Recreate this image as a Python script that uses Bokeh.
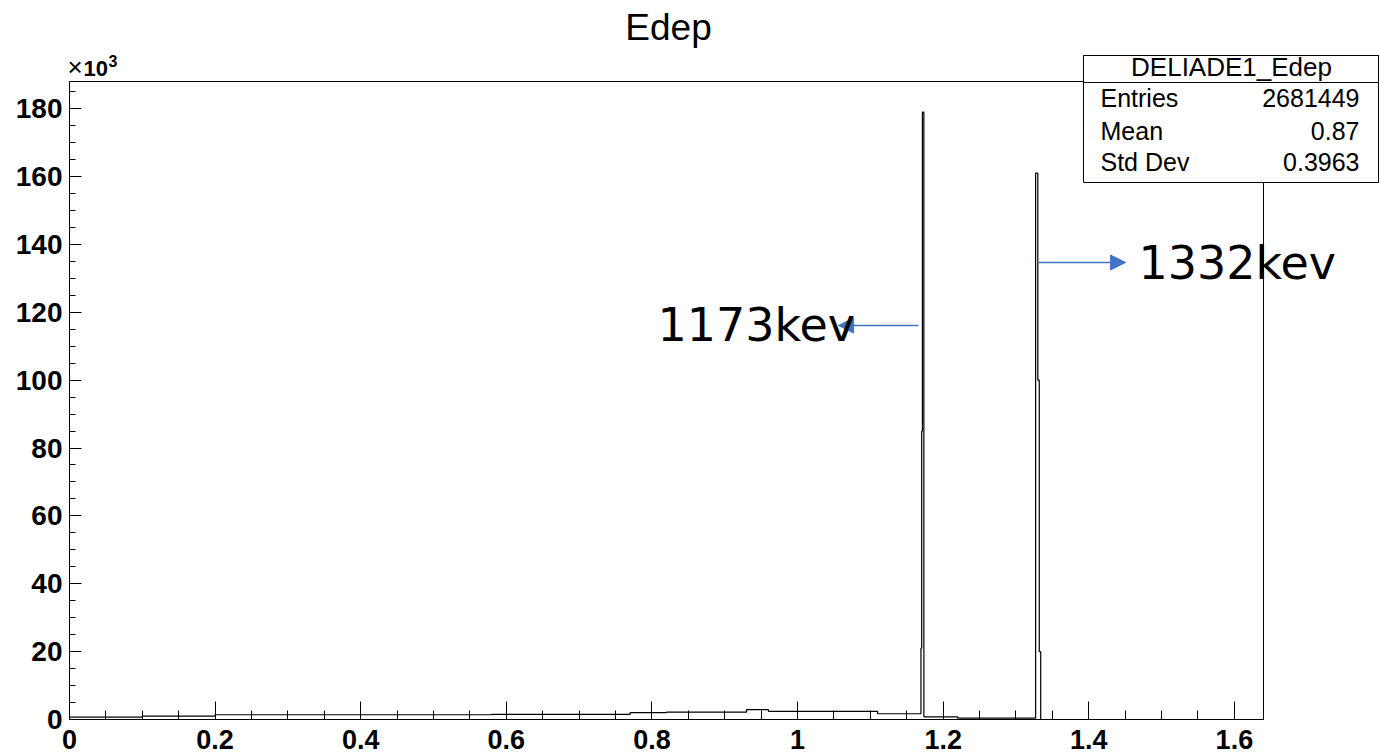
from bokeh.plotting import figure
from bokeh.models import FixedTicker, Label, Arrow, NormalHead, BoxAnnotation, Range1d
from bokeh.embed import file_html
from bokeh.resources import INLINE

# Histogram DELIADE1_Edep: variable-width bin edges (MeV) and counts per bin
bin_edges = [0.0, 0.1, 0.2, 0.58, 0.77, 0.82, 0.93, 0.96, 1.11, 1.1695,
             1.1705, 1.1715, 1.1735, 1.22, 1.327, 1.330, 1.332, 1.334, 1.64]
bin_counts = [700, 1000, 1400, 1500, 2000, 2200, 2900, 2400, 1700, 21000,
              85000, 179000, 800, 400, 161000, 100000, 20000, 0]

# Statistics box contents
stats_title = "DELIADE1_Edep"
stats_names = ["Entries", "Mean", "Std Dev"]
stats_values = ["2681449", "0.87", "0.3963"]

# Peak annotation texts
peak_labels = ["1173kev", "1332kev"]

# Axis ticks
x_major = [0.0, 0.2, 0.4, 0.6, 0.8, 1.0, 1.2, 1.4, 1.6]
x_minor = [i * 0.05 for i in range(33)]
y_major = [i * 20000 for i in range(10)]
y_minor = [i * 5000 for i in range(38)]
x_labels = {0.0: "0", 0.2: "0.2", 0.4: "0.4", 0.6: "0.6", 0.8: "0.8",
            1.0: "1", 1.2: "1.2", 1.4: "1.4", 1.6: "1.6"}
y_labels = {v: str(v // 1000) for v in y_major}

X_MAX = 1.64
Y_MAX = 188000

W, H = 1379, 754
# pad (in pixels) around the histogram frame
LEFT, RIGHT, TOP, BOTTOM = 69, 116, 81, 35
FW = W - LEFT - RIGHT
FH = H - TOP - BOTTOM


def xd(px):
    """canvas pixel column -> data x"""
    return (px - LEFT) * X_MAX / FW


def yd(py):
    """canvas pixel row -> data y"""
    return (H - BOTTOM - py) * Y_MAX / FH


# Label baselines: Bokeh's alphabetic baseline sits ~0.39 em lower than asked
def lbl(px, py, text, size, align="left", font="Liberation Sans", style="normal"):
    return Label(x=xd(px), y=yd(py - 0.39 * size), text=text, text_align=align,
                 text_baseline="alphabetic", text_font=font, text_font_style=style,
                 text_font_size=f"{size}px", text_color="black")


# the plotting frame spans the whole canvas; the axes are pinned at the data origin
p = figure(width=W, height=H,
           x_range=Range1d(xd(0), xd(W)), y_range=Range1d(yd(H), yd(0)),
           output_backend="svg", toolbar_location=None,
           min_border_left=0, min_border_right=0,
           min_border_top=0, min_border_bottom=0)
p.title.visible = False
p.background_fill_color = "white"
p.border_fill_color = "white"
p.outline_line_color = None
p.xgrid.visible = False
p.ygrid.visible = False

# histogram frame
p.add_layout(BoxAnnotation(left=0, right=X_MAX, bottom=0, top=Y_MAX,
                           fill_alpha=0, line_color="black", line_width=1,
                           line_alpha=1.0))

# histogram outline
p.step(x=bin_edges, y=bin_counts + [bin_counts[-1]], mode="after",
       line_color="black", line_width=1.2)

FONT = "Liberation Sans"

xa = p.xaxis[0]
xa.fixed_location = 0
xa.bounds = (0, X_MAX)
xa.ticker = FixedTicker(ticks=x_major, minor_ticks=x_minor)
xa.major_label_overrides = x_labels
xa.major_tick_in = 18
xa.major_tick_out = 0
xa.minor_tick_in = 9
xa.minor_tick_out = 0
xa.major_label_standoff = 10
xa.major_label_text_font = FONT
xa.major_label_text_font_style = "bold"
xa.major_label_text_font_size = "27px"
xa.major_label_text_color = "black"
xa.axis_line_color = "black"
xa.major_tick_line_color = "black"
xa.minor_tick_line_color = "black"

ya = p.yaxis[0]
ya.fixed_location = 0
ya.bounds = (0, Y_MAX)
ya.ticker = FixedTicker(ticks=y_major, minor_ticks=y_minor)
ya.major_label_overrides = y_labels
ya.major_tick_in = 12
ya.major_tick_out = 0
ya.minor_tick_in = 6
ya.minor_tick_out = 0
ya.major_label_standoff = 7
ya.major_label_text_font = FONT
ya.major_label_text_font_style = "bold"
ya.major_label_text_font_size = "28px"
ya.major_label_text_color = "black"
ya.axis_line_color = "black"
ya.major_tick_line_color = "black"
ya.minor_tick_line_color = "black"

# title
p.add_layout(lbl(668, 41, "Edep", 37, align="center"))

# axis multiplier
p.add_layout(lbl(67, 77, "\u00d7", 26))
p.add_layout(lbl(83, 77, "10", 22, style="bold"))
p.add_layout(lbl(108, 67, "3", 16, style="bold"))

# statistics box
p.add_layout(BoxAnnotation(left=xd(1083), right=xd(1378), top=yd(55), bottom=yd(182),
                           fill_color="white", fill_alpha=1.0,
                           line_color="black", line_width=1, line_alpha=1.0))
p.add_layout(BoxAnnotation(left=xd(1083), right=xd(1378), top=yd(55), bottom=yd(82),
                           fill_color="white", fill_alpha=1.0,
                           line_color="black", line_width=1, line_alpha=1.0))
p.add_layout(lbl(1231, 77, stats_title, 26, align="center"))
row_baselines = [107, 140, 171]
for name, val, by in zip(stats_names, stats_values, row_baselines):
    p.add_layout(lbl(1100, by, name, 25))
    p.add_layout(lbl(1359, by, val, 25, align="right"))

# peak arrows and labels
BLUE = "#4472C4"
p.add_layout(Arrow(end=NormalHead(size=15, fill_color=BLUE, line_color=BLUE),
                   x_start=xd(918), y_start=yd(325), x_end=xd(838), y_end=yd(325),
                   line_color=BLUE, line_width=1.5))
p.add_layout(Arrow(end=NormalHead(size=15, fill_color=BLUE, line_color=BLUE),
                   x_start=xd(1037), y_start=yd(262), x_end=xd(1125), y_end=yd(262),
                   line_color=BLUE, line_width=1.5))
p.add_layout(lbl(657, 342, peak_labels[0], 46, font="DejaVu Sans"))
p.add_layout(lbl(1138, 280, peak_labels[1], 46, font="DejaVu Sans"))

open("out.html", "w").write(file_html(p, INLINE))
